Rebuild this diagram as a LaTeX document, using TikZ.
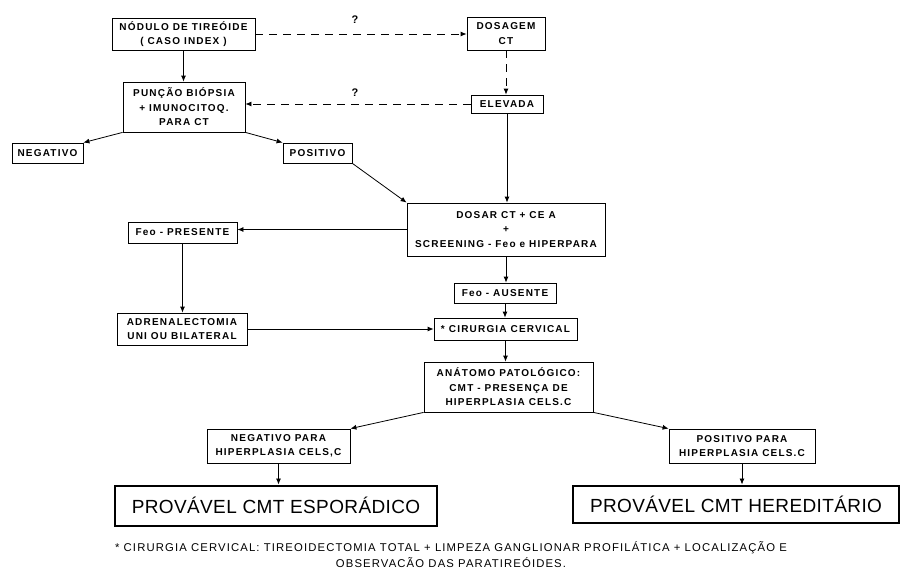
\documentclass[tikz,border=0pt]{standalone}
\usepackage{fontspec}
\setmainfont{Liberation Sans}
\newfontfamily\boxfont[LetterSpace=12]{Liberation Sans}
\newfontfamily\bigfont[LetterSpace=2]{Liberation Sans}
\newfontfamily\notefont[LetterSpace=10]{Liberation Sans}
\usetikzlibrary{arrows.meta}
\begin{document}
\begin{tikzpicture}[x=1pt,y=-1pt,
  box/.style={draw, line width=0.8pt, inner sep=0pt, align=center,
    font=\boxfont\bfseries\fontsize{10}{14.5}\selectfont},
  bigbox/.style={draw, line width=2pt, inner sep=0pt, align=center,
    font=\bigfont\fontsize{19}{22}\selectfont},
  conn/.style={line width=0.8pt, -{Latex[length=6pt,width=5pt]}},
  dconn/.style={conn, dash pattern=on 8pt off 6pt},
  qmark/.style={font=\bfseries\fontsize{11}{13}\selectfont, inner sep=0pt},
  note/.style={font=\notefont\fontsize{11.3}{13}\selectfont, inner sep=0pt}
]
\path[fill=white] (0,0) rectangle (902,570);
\useasboundingbox (0,0) rectangle (902,570);

\node[box, minimum width=143pt, minimum height=32pt] (nod) at (183.5,34) {NÓDULO DE TIREÓIDE\\( CASO INDEX )};
\node[box, minimum width=78pt, minimum height=33pt] (dos) at (506,33.5) {DOSAGEM\\CT};
\node[box, minimum width=122pt, minimum height=50pt] (pun) at (184,107) {PUNÇÃO BIÓPSIA\\+ IMUNOCITOQ.\\PARA CT};
\node[box, minimum width=72pt, minimum height=18pt] (ele) at (507,104) {ELEVADA};
\node[box, minimum width=71pt, minimum height=20pt] (neg) at (47.5,153) {NEGATIVO};
\node[box, minimum width=69pt, minimum height=20pt] (pos) at (317.5,153) {POSITIVO};
\node[box, minimum width=198pt, minimum height=53pt] (dsr) at (506,229.5) {DOSAR CT + CE A\\+\\SCREENING - Feo e HIPERPARA};
\node[box, minimum width=109pt, minimum height=21pt] (fpr) at (182.5,232.5) {Feo - PRESENTE};
\node[box, minimum width=102pt, minimum height=20pt] (fau) at (505,293) {Feo - AUSENTE};
\node[box, minimum width=130pt, minimum height=32pt] (adr) at (182,329) {ADRENALECTOMIA\\UNI OU BILATERAL};
\node[box, minimum width=143pt, minimum height=22pt] (cir) at (505.5,329) {* CIRURGIA CERVICAL};
\node[box, minimum width=169pt, minimum height=50pt] (ana) at (508.5,387) {ANÁTOMO PATOLÓGICO:\\CMT - PRESENÇA DE\\HIPERPLASIA CELS.C};
\node[box, minimum width=143pt, minimum height=34pt] (npa) at (278.5,446) {NEGATIVO PARA\\HIPERPLASIA CELS,C};
\node[box, minimum width=146pt, minimum height=34pt] (ppa) at (742,446) {POSITIVO PARA\\HIPERPLASIA CELS.C};
\node[bigbox, minimum width=322pt, minimum height=40pt] (esp) at (276,505.5) {PROVÁVEL CMT ESPORÁDICO};
\node[bigbox, minimum width=326pt, minimum height=37pt] (her) at (736,504) {PROVÁVEL CMT HEREDITÁRIO};

\node[qmark] (q1) at (355,20) {?};
\node[qmark] (q2) at (355,93) {?};

\node[note] (n1) at (451,548) {* CIRURGIA CERVICAL: TIREOIDECTOMIA TOTAL + LIMPEZA GANGLIONAR PROFILÁTICA + LOCALIZAÇÃO E};
\node[note] (n2) at (451,563) {OBSERVACÃO DAS PARATIREÓIDES.};

\draw[dconn] (nod.east) -- (nod.east -| dos.west);
\draw[conn] (nod.south) -- (nod.south |- pun.north);
\draw[dconn] (dos.south) -- (dos.south |- ele.north);
\draw[dconn] (ele.west) -- (ele.west -| pun.east);
\draw[conn] (pun.south west) -- (neg.north east);
\draw[conn] (pun.south east) -- (pos.north west);
\draw[conn] (pos.south east) -- (dsr.north west);
\draw[conn] (ele.south) -- (ele.south |- dsr.north);
\draw[conn] (dsr.west) -- (dsr.west -| fpr.east);
\draw[conn] (fpr.south) -- (fpr.south |- adr.north);
\draw[conn] (dsr.south) -- (dsr.south |- fau.north);
\draw[conn] (fau.south) -- (fau.south |- cir.north);
\draw[conn] (adr.east) -- (adr.east -| cir.west);
\draw[conn] (cir.south) -- (cir.south |- ana.north);
\draw[conn] (ana.south west) -- (npa.north east);
\draw[conn] (ana.south east) -- (ppa.north west);
\draw[conn] (npa.south) -- (npa.south |- esp.north);
\draw[conn] (ppa.south) -- (ppa.south |- her.north);
\end{tikzpicture}
\end{document}
